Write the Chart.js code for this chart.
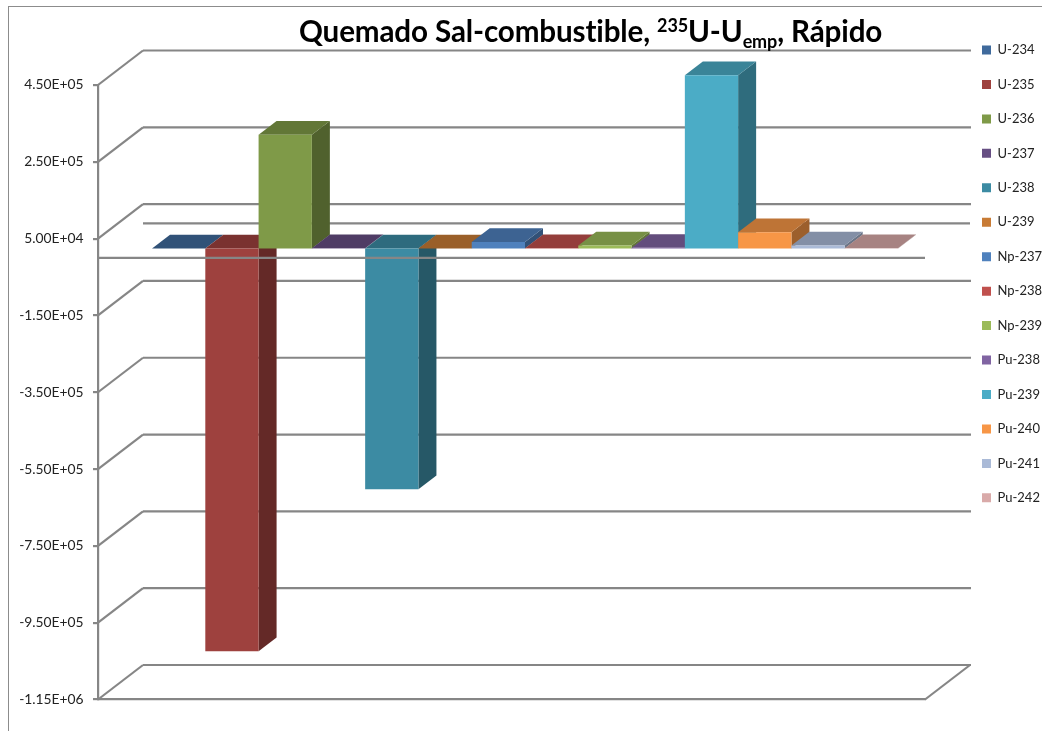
<!DOCTYPE html>
<html>
<head>
<meta charset="utf-8">
<script src="https://cdn.jsdelivr.net/npm/chart.js@4/dist/chart.umd.min.js"></script>
<style>
html,body{margin:0;padding:0;background:#fff;overflow:hidden}
#wrap{position:relative;width:1042px;height:731px}
canvas{position:absolute;left:0;top:0}
#title{position:absolute;left:299px;top:13px;white-space:nowrap;font-family:Lato,sans-serif;font-weight:700;font-size:29.6px;line-height:36px;color:#000;letter-spacing:-0.13px}
#title sup{font-size:18px;line-height:0;vertical-align:10px}
#title sub{font-size:18px;line-height:0;vertical-align:-6px}
</style>
</head>
<body>
<div id="wrap">
<canvas id="c" width="1042" height="731"></canvas>
<div id="title">Quemado Sal-combustible, <sup>235</sup>U-U<sub>emp</sub>, Rápido</div>
</div>
<script>
const categories = ["Quemado"];
const seriesNames = ["U-234","U-235","U-236","U-237","U-238","U-239","Np-237","Np-238","Np-239","Pu-238","Pu-239","Pu-240","Pu-241","Pu-242"];
const seriesValues = [-200,-1049000,296000,300,-627000,-300,17000,500,7800,1500,451000,42400,7800,300];
const seriesColors = ["#3F6A9C","#9E413E","#7F9A48","#664E83","#3C8BA3","#C87B35","#4F81BD","#C0504D","#9BBB59","#8064A2","#4BACC6","#F79646","#AABAD7","#D9AAA9"];
const axisMin = -1150000, axisMax = 450000, axisStep = 200000;

const gridColor = "#868686";
const wallDepth = {x:45, y:-34.5};
const barShift = {x:13.5, y:-9.4};
const barDepth = {x:18, y:-13.7};

function shade(hex,f){
  const n=parseInt(hex.slice(1),16);
  const r=Math.round((n>>16&255)*f),g=Math.round((n>>8&255)*f),b=Math.round((n&255)*f);
  return `rgb(${r},${g},${b})`;
}
function sci(v){
  const p=Number(v).toExponential(2).split("e");
  const sign=p[1][0], digits=p[1].slice(1).padStart(2,"0");
  return `${p[0]}E${sign}${digits}`;
}
function seg(ctx,x1,y1,x2,y2){ctx.beginPath();ctx.moveTo(x1,y1);ctx.lineTo(x2,y2);ctx.stroke();}
function poly(ctx,pts,color){
  ctx.fillStyle=color;ctx.beginPath();
  pts.forEach((p,i)=>i?ctx.lineTo(p[0],p[1]):ctx.moveTo(p[0],p[1]));
  ctx.closePath();ctx.fill();
}

const plot3d = {
  id:"plot3d",
  afterLayout(chart){
    const lg=chart.legend, pad=lg.options.labels.padding;
    lg.left=982-pad; lg.top=50-6.5-pad; lg.right=chart.width; lg.bottom=chart.height;
  },
  beforeDraw(chart){
    const ctx=chart.ctx;
    ctx.save();
    ctx.fillStyle="#fff";ctx.fillRect(0,0,chart.width,chart.height);
    ctx.strokeStyle="#8c8c8c";ctx.lineWidth=1;
    ctx.strokeRect(8.5,6.5,chart.width+40,chart.height+40);
    ctx.restore();
  },
  beforeDatasetsDraw(chart){
    const ctx=chart.ctx, {left,right}=chart.chartArea, y=chart.scales.y;
    ctx.save();
    ctx.strokeStyle=gridColor;ctx.lineWidth=2.2;
    y.ticks.forEach((t,i)=>{
      const py=y.getPixelForTick(i);
      seg(ctx,left,py,left+wallDepth.x,py+wallDepth.y);
      seg(ctx,left+wallDepth.x,py+wallDepth.y,right+wallDepth.x+1,py+wallDepth.y);
    });
    const b=y.getPixelForValue(axisMin);
    seg(ctx,right,b,right+wallDepth.x,b+wallDepth.y);
    const z=y.getPixelForValue(0);
    seg(ctx,left+wallDepth.x,z+wallDepth.y,right+wallDepth.x,z+wallDepth.y);
    ctx.restore();

    ctx.save();
    ctx.translate(barShift.x,barShift.y);
    for(let i=0;i<chart.data.datasets.length;i++){
      const meta=chart.getDatasetMeta(i), color=seriesColors[i];
      meta.data.forEach(el=>{
        const p=el.getProps(["x","y","base","width"],true);
        const l=p.x-p.width/2, r=p.x+p.width/2;
        const t=Math.min(p.y,p.base), u=Math.max(p.y,p.base);
        const dx=barDepth.x, dy=barDepth.y;
        poly(ctx,[[r,t],[r+dx,t+dy],[r+dx,u+dy],[r,u]],shade(color,0.63));
        poly(ctx,[[l,t],[l+dx,t+dy],[r+dx,t+dy],[r,t]],shade(color,0.77));
      });
      meta.controller.draw();
    }
    ctx.restore();

    ctx.save();
    ctx.strokeStyle=gridColor;ctx.lineWidth=2.2;
    seg(ctx,left,z,right,z);
    ctx.restore();
    return false;
  }
};

const datasets = seriesNames.map((name,i)=>({
  label:name,
  data:[seriesValues[i]],
  backgroundColor:seriesColors[i],
  borderWidth:0
}));

new Chart(document.getElementById("c"),{
  type:"bar",
  data:{labels:categories,datasets},
  plugins:[plot3d],
  options:{
    responsive:false,
    animation:false,
    layout:{padding:{left:0,top:85,right:117,bottom:31.5}},
    categoryPercentage:0.902,
    barPercentage:1,
    plugins:{
      title:{display:false},
      tooltip:{enabled:false},
      legend:{
        position:"chartArea",
        align:"start",
        labels:{boxWidth:9,boxHeight:9,padding:21.45,color:"#222",font:{family:"Lato, sans-serif",size:13}}
      }
    },
    scales:{
      x:{
        grid:{display:false},
        ticks:{display:false},
        border:{display:true,color:gridColor,width:2.2},
        afterFit(s){s.height=0;}
      },
      y:{
        min:axisMin,max:axisMax,
        afterFit(s){s.width=98;},
        ticks:{stepSize:axisStep,callback:v=>sci(v),color:"#222",padding:9.5,font:{family:"Lato, sans-serif",size:13.8}},
        grid:{drawOnChartArea:false,drawTicks:true,tickLength:5,color:gridColor,lineWidth:2.2},
        border:{display:true,color:gridColor,width:2.2}
      }
    }
  }
});
</script>
</body>
</html>
